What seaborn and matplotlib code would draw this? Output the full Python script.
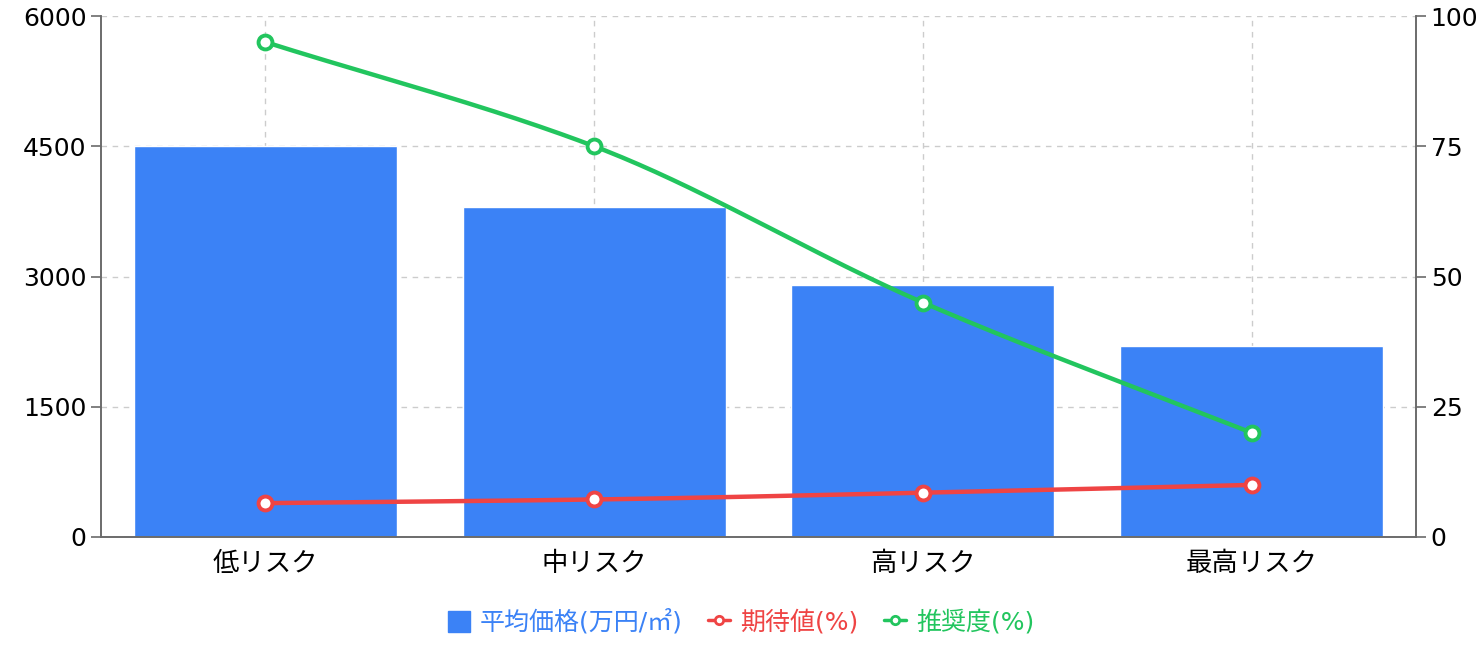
import numpy as np
import pandas as pd
import matplotlib
matplotlib.use('Agg')
import matplotlib.pyplot as plt
import seaborn as sns
from matplotlib.patches import Patch
from matplotlib.lines import Line2D

# データ
categories = ['低リスク', '中リスク', '高リスク', '最高リスク']
avg_price = [4500, 3800, 2900, 2200]
expected_return = [6.5, 7.2, 8.5, 10.0]
recommend = [95, 75, 45, 20]

bar_label = '平均価格(万円/㎡)'
red_label = '期待値(%)'
green_label = '推奨度(%)'

blue = '#3b82f6'
red = '#ef4444'
green = '#22c55e'
axis_gray = '#6b6b6b'
grid_gray = '#cccccc'

sns.set_style('white')
plt.rcParams['font.family'] = ['DejaVu Sans', 'Noto Sans CJK JP']
plt.rcParams['font.size'] = 18


def monotone_curve(y, n=60):
    # Fritsch-Carlson monotone cubic, only used to draw the smooth line
    y = np.asarray(y, dtype=float)
    x = np.arange(len(y), dtype=float)
    d = np.diff(y)
    m = np.zeros_like(y)
    m[0], m[-1] = d[0], d[-1]
    for i in range(1, len(y) - 1):
        if d[i - 1] * d[i] <= 0:
            m[i] = 0
        else:
            m[i] = 2 / (1 / d[i - 1] + 1 / d[i])
    xs, ys = [], []
    for i in range(len(y) - 1):
        t = np.linspace(0, 1, n)
        h00 = 2 * t**3 - 3 * t**2 + 1
        h10 = t**3 - 2 * t**2 + t
        h01 = -2 * t**3 + 3 * t**2
        h11 = t**3 - t**2
        xs.append(x[i] + t)
        ys.append(h00 * y[i] + h10 * m[i] + h01 * y[i + 1] + h11 * m[i + 1])
    return np.concatenate(xs), np.concatenate(ys)


df = pd.DataFrame({'category': categories, 'price': avg_price})

fig, ax = plt.subplots(figsize=(14.82, 6.48), dpi=100)
fig.subplots_adjust(left=0.0682, right=0.9555, top=0.9753, bottom=0.1713)

sns.barplot(data=df, x='category', y='price', color=blue, saturation=1,
            width=0.8, ax=ax, zorder=2)
ax.set_xlim(-0.5, len(categories) - 0.5)
ax.set_ylim(0, 6000)
ax.set_yticks([0, 1500, 3000, 4500, 6000])
ax.set_xlabel('')
ax.set_ylabel('')
ax.grid(True, color=grid_gray, linestyle=(0, (4, 4)), linewidth=1, zorder=0)
ax.set_axisbelow(True)

ax2 = ax.twinx()
ax2.set_ylim(0, 100)
ax2.set_yticks([0, 25, 50, 75, 100])

for vals, col in [(expected_return, red), (recommend, green)]:
    cx, cy = monotone_curve(vals)
    ax2.plot(cx, cy, color=col, linewidth=3.2, zorder=3, solid_capstyle='round')
    sns.scatterplot(x=np.arange(len(vals)), y=vals, ax=ax2, s=100, marker='o',
                    facecolor='white', edgecolor=col, linewidth=2.8, zorder=4)

for a in (ax, ax2):
    a.spines['top'].set_visible(False)
    for side in ('left', 'right', 'bottom'):
        a.spines[side].set_color(axis_gray)
        a.spines[side].set_linewidth(1.2)
    a.tick_params(axis='both', colors=axis_gray, labelcolor='black',
                  length=7, width=1.2, labelsize=18)
ax.tick_params(axis='x', pad=3, labelsize=19)
ax2.set_ylabel('')

handles = [
    Patch(facecolor=blue, edgecolor=blue),
    Line2D([0], [0], color=red, linewidth=2.5, marker='o', markersize=6,
           markerfacecolor='white', markeredgecolor=red, markeredgewidth=2),
    Line2D([0], [0], color=green, linewidth=2.5, marker='o', markersize=6,
           markerfacecolor='white', markeredgecolor=green, markeredgewidth=2),
]
fig.legend(handles, [bar_label, red_label, green_label], loc='center',
           bbox_to_anchor=(0.5, 0.04), ncol=3, frameon=False,
           labelcolor=[blue, red, green], fontsize=18, handlelength=0.9,
           handleheight=0.9, handletextpad=0.4, columnspacing=1.0)

fig.savefig('out.png', dpi=100)
